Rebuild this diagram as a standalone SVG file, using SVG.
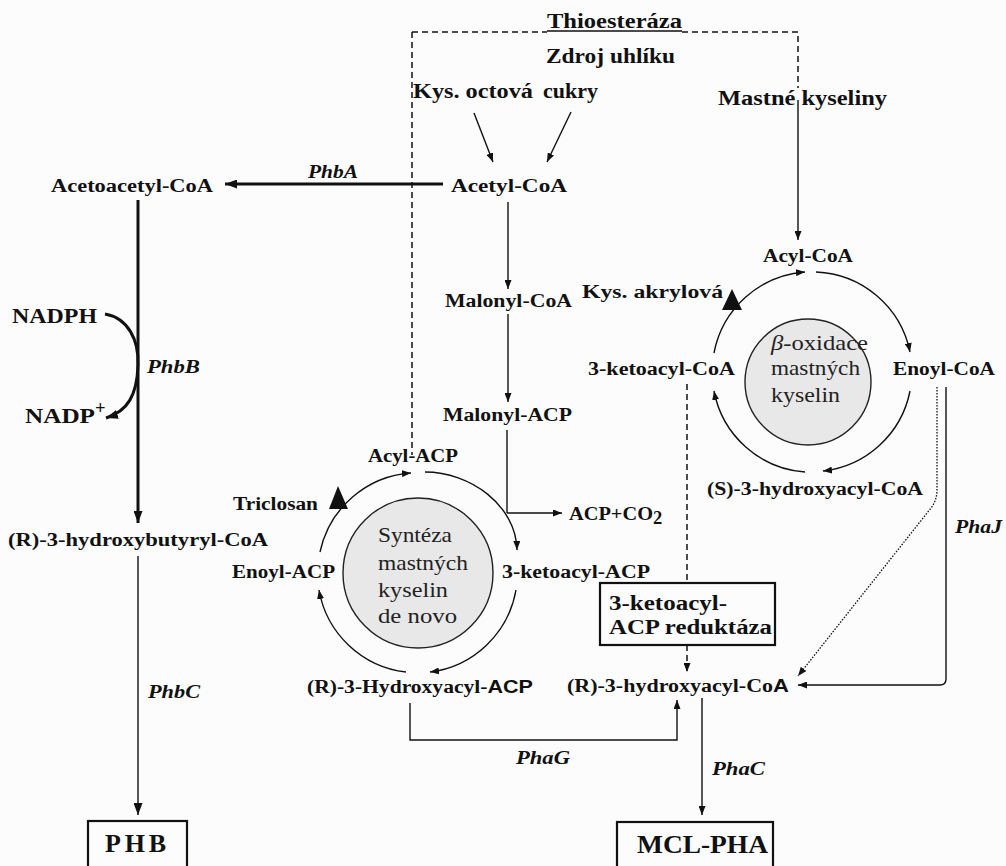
<svg xmlns="http://www.w3.org/2000/svg" width="1006" height="866" viewBox="0 0 1006 866">
<defs>
<style>
.t{font-family:"Liberation Serif","Times New Roman",serif;font-weight:bold;font-size:18.5px;fill:#111}
.b{font-size:20px}
.i{font-style:italic}
.r{font-family:"Liberation Serif","Times New Roman",serif;font-weight:normal;font-size:21px;fill:#222}
.big{font-size:26px}
.ln{fill:none;stroke:#111;stroke-width:1.4}
.thk{fill:none;stroke:#111;stroke-width:3}
.dash{fill:none;stroke:#111;stroke-width:1.5;stroke-dasharray:6 4}
.dot{fill:none;stroke:#111;stroke-width:1.3;stroke-dasharray:1.5 1.5}
.box{fill:none;stroke:#111;stroke-width:2.2}
.cyc{fill:#e8e8e8;stroke:#222;stroke-width:1.4}
.sans{font-family:"Liberation Sans",Arial,sans-serif}
</style>
<marker id="ah" markerUnits="userSpaceOnUse" markerWidth="9" markerHeight="7" refX="9" refY="3.5" orient="auto"><path d="M0,0 L9,3.5 L0,7 z" fill="#111"/></marker>
<marker id="ahb" markerUnits="userSpaceOnUse" markerWidth="12" markerHeight="9" refX="12" refY="4.5" orient="auto"><path d="M0,0 L12,4.5 L0,9 z" fill="#111"/></marker>
</defs>
<rect width="1006" height="866" fill="#fcfcfc"/>

<g id="connectors">
  <path class="dash" d="M412,32 H547 M682,32 H798 V88 M412,32 V455"/>
  <path class="ln" d="M547,31 H682" stroke-width="1.6"/>
  <path class="dash" d="M687,384 V583 M687,645 V672" marker-end="url(#ah)"/>
  <line class="ln" x1="474" y1="113" x2="493" y2="162" marker-end="url(#ah)"/>
  <line class="ln" x1="571" y1="112" x2="547" y2="162" marker-end="url(#ah)"/>
  <line class="thk" x1="443" y1="184" x2="225" y2="184" marker-end="url(#ahb)"/>
  <line class="thk" x1="138" y1="200" x2="138" y2="523" marker-end="url(#ahb)"/>
  <path class="thk" d="M105,314 C128,318 139,340 138,365 C137,395 128,411 106,418" marker-end="url(#ahb)"/>
  <line class="ln" x1="138" y1="556" x2="138" y2="815" stroke-width="2.4" marker-end="url(#ahb)"/>
  <line class="ln" x1="508" y1="202" x2="508" y2="289" marker-end="url(#ah)"/>
  <line class="ln" x1="508" y1="314" x2="508" y2="402" marker-end="url(#ah)"/>
  <line class="ln" x1="507" y1="430" x2="507" y2="513"/>
  <line class="ln" x1="507" y1="513" x2="562" y2="513" marker-end="url(#ah)"/>
  <line class="ln" x1="798" y1="100" x2="798" y2="240" marker-end="url(#ah)"/>
  <path class="ln" d="M946,387 V679 Q946,685 940,685 H798" marker-end="url(#ah)"/>
  <path class="dot" d="M937,387 V490 Q937,500 931,508 L798,676" marker-end="url(#ah)"/>
  <path class="ln" d="M410,703 V740 H677 V700" marker-end="url(#ah)"/>
  <line class="ln" x1="702" y1="698" x2="702" y2="815" marker-end="url(#ah)"/>
  <path class="ln" d="M320,552 A100,100 0 0 1 411,473" marker-end="url(#ah)"/>
  <path class="ln" d="M425,472 C470,472 516,505 517,550" marker-end="url(#ah)"/>
  <path class="ln" d="M516,590 A100,100 0 0 1 430,672" marker-end="url(#ah)"/>
  <path class="ln" d="M406,672 A100,100 0 0 1 319,590" marker-end="url(#ah)"/>
  <path class="ln" d="M816,272 A100,100 0 0 1 910,352" marker-end="url(#ah)"/>
  <path class="ln" d="M910,391 A100,100 0 0 1 823,471" marker-end="url(#ah)"/>
  <path class="ln" d="M805,472 A100,100 0 0 1 714,391" marker-end="url(#ah)"/>
  <path class="ln" d="M714,353 A100,100 0 0 1 805,272" marker-end="url(#ah)"/>
  <polygon points="338,486 329,509 348,509" fill="#111"/>
  <polygon points="732,289 722,310 742,310" fill="#111"/>
</g>

<g id="thioesteraza"><text class="t b" x="547" y="28" textLength="135" lengthAdjust="spacingAndGlyphs">Thioesteráza</text></g>
<g id="zdroj"><text class="t b" x="546" y="63" textLength="129" lengthAdjust="spacingAndGlyphs">Zdroj uhlíku</text></g>
<g id="octova"><text class="t b" x="413" y="98" textLength="120" lengthAdjust="spacingAndGlyphs">Kys. octová</text></g>
<g id="cukry"><text class="t b" x="543" y="98" textLength="55" lengthAdjust="spacingAndGlyphs">cukry</text></g>
<g id="mastne"><text class="t b" x="718" y="105" textLength="169" lengthAdjust="spacingAndGlyphs">Mastné kyseliny</text></g>
<g id="acetoacetyl"><text class="t" x="51" y="192" textLength="162" lengthAdjust="spacingAndGlyphs">Acetoacetyl-CoA</text></g>
<g id="phba"><text class="t i" x="308" y="178" textLength="50" lengthAdjust="spacingAndGlyphs">PhbA</text></g>
<g id="acetyl"><text class="t" x="451" y="192" textLength="116" lengthAdjust="spacingAndGlyphs">Acetyl-CoA</text></g>
<g id="malonylcoa"><text class="t" x="445" y="307" textLength="127" lengthAdjust="spacingAndGlyphs">Malonyl-CoA</text></g>
<g id="malonylacp"><text class="t" x="443" y="421" textLength="129" lengthAdjust="spacingAndGlyphs">Malonyl-ACP</text></g>
<g id="acylcoa"><text class="t" x="763" y="262" textLength="90" lengthAdjust="spacingAndGlyphs">Acyl-CoA</text></g>
<g id="akrylova"><text class="t" x="582" y="298" font-size="19.5" textLength="141" lengthAdjust="spacingAndGlyphs">Kys. akrylová</text></g>
<g id="ketoacylcoa"><text class="t" x="588" y="375" textLength="147" lengthAdjust="spacingAndGlyphs">3-ketoacyl-CoA</text></g>
<g id="enoylcoa"><text class="t" x="893" y="375" textLength="102" lengthAdjust="spacingAndGlyphs">Enoyl-CoA</text></g>
<g id="shydroxy"><text class="t" x="707" y="495" textLength="216" lengthAdjust="spacingAndGlyphs">(S)-3-hydroxyacyl-CoA</text></g>
<g id="betaox">
  <circle class="cyc" cx="808" cy="382" r="63"/>
  <text class="r" x="771" y="350" textLength="97" lengthAdjust="spacingAndGlyphs"><tspan font-style="italic">β</tspan>-oxidace</text>
  <text class="r" x="771" y="375" textLength="89" lengthAdjust="spacingAndGlyphs">mastných</text>
  <text class="r" x="771" y="402" textLength="69" lengthAdjust="spacingAndGlyphs">kyselin</text>
</g>
<g id="nadph"><text class="t b" x="12" y="323" textLength="85" lengthAdjust="spacingAndGlyphs">NADPH</text></g>
<g id="nadp"><text class="t b" x="25" y="423" textLength="70" lengthAdjust="spacingAndGlyphs">NADP</text><text class="t" x="95" y="414" font-size="12">+</text></g>
<g id="phbb"><text class="t i" x="147" y="373" textLength="53" lengthAdjust="spacingAndGlyphs">PhbB</text></g>
<g id="rhydroxybutyryl"><text class="t" x="8" y="546" textLength="260" lengthAdjust="spacingAndGlyphs">(R)-3-hydroxybutyryl-CoA</text></g>
<g id="phbc"><text class="t i" x="148" y="698" textLength="52" lengthAdjust="spacingAndGlyphs">PhbC</text></g>
<g id="phb"><rect class="box" x="88" y="821" width="99" height="60"/><text class="t big" x="105" y="852" textLength="61" lengthAdjust="spacing">PHB</text></g>
<g id="acylacp"><text class="t" x="368" y="462" textLength="90" lengthAdjust="spacingAndGlyphs">Acyl-ACP</text></g>
<g id="triclosan"><text class="t" x="233" y="510" textLength="85" lengthAdjust="spacingAndGlyphs">Triclosan</text></g>
<g id="enoylacp"><text class="t" x="232" y="578" textLength="103" lengthAdjust="spacingAndGlyphs">Enoyl-ACP</text></g>
<g id="ketoacylacp"><text class="t" x="502" y="578" textLength="148" lengthAdjust="spacingAndGlyphs">3-ketoacyl-ACP</text></g>
<g id="acpco2"><text class="t" x="569" y="520" textLength="84" lengthAdjust="spacingAndGlyphs">ACP+CO</text><text class="t" x="653" y="524" font-size="13">2</text></g>
<g id="fas">
  <circle class="cyc" cx="418" cy="573" r="75"/>
  <text class="r" x="378" y="542" textLength="74" lengthAdjust="spacingAndGlyphs">Syntéza</text>
  <text class="r" x="378" y="570" textLength="90" lengthAdjust="spacingAndGlyphs">mastných</text>
  <text class="r" x="378" y="597" textLength="70" lengthAdjust="spacingAndGlyphs">kyselin</text>
  <text class="r" x="378" y="623" textLength="79" lengthAdjust="spacingAndGlyphs">de novo</text>
</g>
<g id="reduktaza"><rect class="box" x="600" y="583" width="175" height="62"/>
  <text class="t b" x="609" y="610" textLength="118" lengthAdjust="spacingAndGlyphs">3-ketoacyl-</text>
  <text class="t b" x="609" y="634" textLength="163" lengthAdjust="spacingAndGlyphs">ACP reduktáza</text></g>
<g id="rhydroxyacp"><text class="t" x="307" y="693" textLength="226" lengthAdjust="spacingAndGlyphs">(R)-3-Hydroxyacyl-<tspan class="sans">ACP</tspan></text></g>
<g id="rhydroxycoa"><text class="t" x="567" y="692" textLength="222" lengthAdjust="spacingAndGlyphs">(R)-3-hydroxyacyl-Co<tspan class="sans">A</tspan></text></g>
<g id="phag"><text class="t i" x="516" y="764" textLength="54" lengthAdjust="spacingAndGlyphs">PhaG</text></g>
<g id="phac"><text class="t i" x="712" y="775" textLength="53" lengthAdjust="spacingAndGlyphs">PhaC</text></g>
<g id="phaj"><text class="t i" x="955" y="533" textLength="47" lengthAdjust="spacingAndGlyphs">PhaJ</text></g>
<g id="mclpha"><rect class="box" x="617" y="822" width="156" height="60"/><text class="t big" x="637" y="853" textLength="131" lengthAdjust="spacingAndGlyphs">MCL-PHA</text></g>
</svg>
